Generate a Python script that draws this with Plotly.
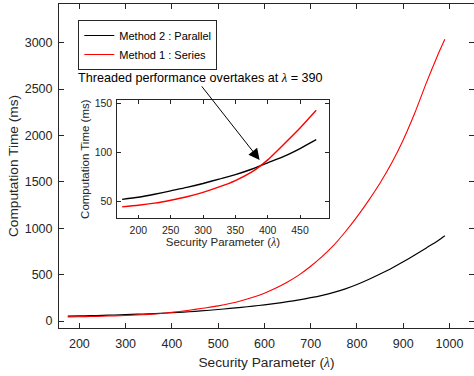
import plotly.graph_objects as go

# ---- data ----
lam = [175, 200, 225, 250, 275, 300, 325, 350, 375, 400, 425, 450, 475,
       500, 525, 550, 575, 600, 625, 650, 675, 700, 725, 750, 775, 800,
       825, 850, 875, 900, 925, 950, 975, 990]
parallel_ms = [52.4, 54.5, 57.5, 61, 64.5, 68.5, 73, 77.5, 83, 89.5, 96, 104, 113,
               124, 135, 147, 160, 174, 190, 208, 228, 251, 277, 308, 346, 393,
               447, 506, 569, 638, 711, 788, 866, 920]
series_ms = [44.7, 46.3, 48.5, 51.5, 55, 59.5, 65, 71.5, 80, 92.5, 108.5, 125, 143,
             163, 188, 218, 255, 300, 355, 420, 497, 590, 697, 818, 962, 1122,
             1297, 1487, 1702, 1952, 2242, 2567, 2870, 3036]
inset_max_lam = 475

main_xticks = [200, 300, 400, 500, 600, 700, 800, 900, 1000]
main_yticks = [0, 500, 1000, 1500, 2000, 2500, 3000]
inset_xticks = [200, 250, 300, 350, 400, 450]
inset_yticks = [50, 100, 150]

name_par = "Method 2 : Parallel"
name_ser = "Method 1 : Series"
LAM = "<span style=\"font-family:'Liberation Serif';font-style:italic\">λ</span>"

ix = [l for l in lam if l <= inset_max_lam]
ip = parallel_ms[:len(ix)]
iser = series_ms[:len(ix)]

FONT = "Liberation Sans, Arial, Helvetica, sans-serif"
AX = "#262626"

fig = go.Figure()
fig.add_trace(go.Scatter(x=lam, y=parallel_ms, mode="lines", name=name_par,
                         line=dict(color="black", width=1.2, shape="spline", smoothing=0.6),
                         xaxis="x", yaxis="y"))
fig.add_trace(go.Scatter(x=lam, y=series_ms, mode="lines", name=name_ser,
                         line=dict(color="red", width=1.1, shape="spline", smoothing=0.6),
                         xaxis="x", yaxis="y"))
fig.add_trace(go.Scatter(x=ix, y=ip, mode="lines", showlegend=False,
                         line=dict(color="black", width=1.4, shape="spline", smoothing=0.6),
                         xaxis="x2", yaxis="y2"))
fig.add_trace(go.Scatter(x=ix, y=iser, mode="lines", showlegend=False,
                         line=dict(color="red", width=1.4, shape="spline", smoothing=0.6),
                         xaxis="x2", yaxis="y2"))

common = dict(showgrid=False, zeroline=False, showline=True, linecolor=AX, linewidth=1,
              ticks="inside", mirror="ticks", tickcolor=AX, tickwidth=1)

fig.update_layout(
    width=474, height=376,
    margin=dict(l=59, r=0, t=4, b=48),
    paper_bgcolor="white", plot_bgcolor="white",
    font=dict(family=FONT, color=AX, size=12.5),
    xaxis=dict(domain=[0, 1], range=[156, 1053], tickvals=main_xticks, ticklen=5,
               tickfont=dict(size=12.5), ticklabelstandoff=4,
               title=dict(text="Security Parameter (" + LAM + ")", font=dict(size=13.7), standoff=7),
               **common),
    yaxis=dict(domain=[0, 1], range=[-75.5, 3417], tickvals=main_yticks, ticklen=5,
               tickfont=dict(size=12.5), ticklabelstandoff=3,
               title=dict(text="Computation Time (ms)", font=dict(size=13.7), standoff=2),
               **common),
    xaxis2=dict(domain=[(117.3 - 59) / 415, (328.5 - 59) / 415], anchor="y2",
                range=[167.5, 494], tickvals=inset_xticks, ticklen=3.5,
                tickfont=dict(size=10.5), ticklabelstandoff=2,
                title=dict(text="Security Parameter (" + LAM + ")", font=dict(size=11.5), standoff=3),
                **common),
    yaxis2=dict(domain=[(328 - 218.3) / 324, (328 - 100) / 324], anchor="x2",
                range=[33.1, 153.4], tickvals=inset_yticks, ticklen=3.5,
                tickfont=dict(size=10.5), ticklabelstandoff=2,
                title=dict(text="Computation Time (ms)", font=dict(size=11.5), standoff=2),
                **common),
    legend=dict(x=(78.3 - 59) / 415, y=(328 - 20) / 324, xanchor="left", yanchor="top",
                bgcolor="white", bordercolor=AX, borderwidth=1,
                font=dict(size=11, color="black")),
    showlegend=True,
)

fig.add_annotation(text="Threaded performance overtakes at " + LAM + " = 390",
                   xref="paper", yref="paper", x=(76.3 - 59) / 415, y=(328 - 77.7) / 324,
                   xanchor="left", yanchor="middle", showarrow=False,
                   font=dict(size=12.6, color="black"))
fig.add_annotation(text="", xref="x2", yref="y2", x=387.5, y=92.5,
                   ax=-59, ay=-75, showarrow=True, arrowhead=2, arrowsize=2.2,
                   arrowwidth=1, arrowcolor="black", standoff=0)

fig.write_html("out.html")
